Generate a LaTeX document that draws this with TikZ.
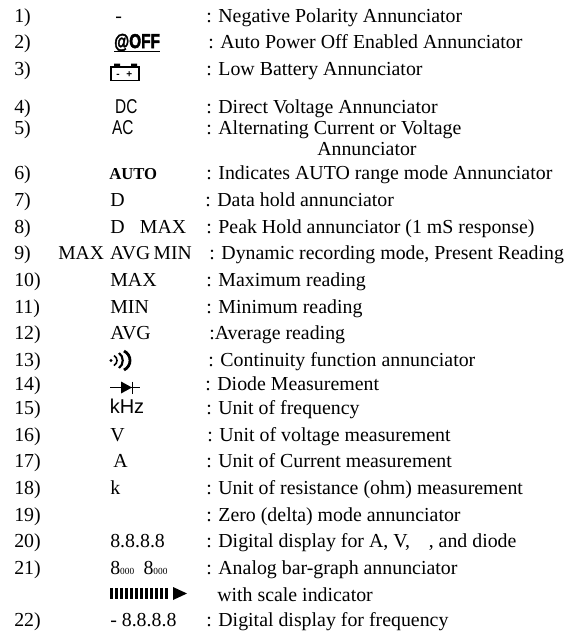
\documentclass[tikz,border=0pt]{standalone}
\usepackage{fontspec}
\setmainfont{Liberation Serif}
\newfontfamily\symfont{Liberation Sans}
\newfontfamily\offfont[FakeBold=2.5]{Liberation Sans Bold}
\begin{document}
\begin{tikzpicture}[x=0.75pt, y=-0.75pt,
    every node/.style={anchor=base west, inner sep=0pt, font=\fontsize{14.9pt}{16pt}\selectfont}
  ]
  \tikzset{
    sans/.style={font=\fontsize{15pt}{16pt}\selectfont\symfont},
    estreito/.style={sans, xscale=0.77},
    traco/.style={line width=0.9pt}
  }
  \useasboundingbox (0,0) rectangle (571,633);
  % numeros
  \foreach \n/\y in {1/22,2/48,3/75,4/113,5/134,6/179,7/206,8/233,9/259,10/286,11/313,12/339,13/366,14/390,15/414,16/441,17/467,18/494,19/521,20/547,21/574,22/626}
    \node (n\n) at (14,\y) {\n)};
  % descricoes
  \foreach \n/\x/\y/\t in {
    1/206/22/{: Negative Polarity Annunciator},
    2/208/48/{: Auto Power Off Enabled Annunciator},
    3/206/75/{: Low Battery Annunciator},
    4/206/113/{: Direct Voltage Annunciator},
    5/206/134/{: Alternating Current or Voltage},
    6/206/179/{: Indicates AUTO range mode Annunciator},
    7/205/206/{: Data hold annunciator},
    8/206/233/{: Peak Hold annunciator (1 mS response)},
    9/209/259/{: Dynamic recording mode, Present Reading},
    10/206/286/{: Maximum reading},
    11/206/313/{: Minimum reading},
    12/209/339/{:Average reading},
    13/208/366/{: Continuity function annunciator},
    14/205/390/{: Diode Measurement},
    15/206/414/{: Unit of frequency},
    16/207/441/{: Unit of voltage measurement},
    17/206/467/{: Unit of Current measurement},
    18/206/494/{: Unit of resistance (ohm) measurement},
    19/206/521/{: Zero (delta) mode annunciator},
    20/206/547/{: Digital display for A, V,\hspace{14pt}, and diode},
    21/206/574/{: Analog bar-graph annunciator},
    22/206/626/{: Digital display for frequency}}
    \node (d\n) at (\x,\y) {\t};
  \node (d5b) at (317,155) {Annunciator};
  \node (d21b) at (217,601) {with scale indicator};
  % simbolos
  \node (s1) at (115,22) {-};
  \node[font=\fontsize{15pt}{16pt}\selectfont\offfont, xscale=0.77] (s2) at (114,48) {@OFF};
  \draw[line width=1.1pt] (114,51.5) -- (160,51.5);
  % bateria
  \draw[traco] (111,67) rectangle (139,80.5);
  \fill (114,63.5) rectangle (120,67) (131,63.5) rectangle (137,67);
  \node[font=\fontsize{7.5pt}{8pt}\selectfont\symfont\bfseries] (s3) at (116,77.5) {-\hspace{5pt}+};
  \node[estreito] (s4) at (115,113) {DC};
  \node[estreito] (s5) at (112,134) {AC};
  \node[font=\fontsize{12.5pt}{14pt}\selectfont\bfseries] (s6) at (109,179) {AUTO};
  \node (s7) at (110,206) {D};
  \node (s8) at (110,233) {D\hspace{11.5pt}MAX};
  \node[font=\fontsize{14.7pt}{16pt}\selectfont] (s9) at (58,259) {MAX\hspace{1pt} AVG\hspace{-1pt} MIN};
  \node (s10) at (110,286) {MAX};
  \node (s11) at (110,313) {MIN};
  \node (s12) at (110,339) {AVG};
  % continuidade
  \fill (111,360.5) circle (1.6);
  \draw[line width=1.2pt] (114,355.5) .. controls (118,358) and (118,363) .. (114,365.5);
  \draw[line width=1.6pt] (119,353) .. controls (124,356.5) and (124,364.5) .. (119,368);
  \draw[line width=2.1pt] (124,351) .. controls (132,355) and (132,366) .. (124,370);
  % diodo
  \draw[line width=1.3pt] (110,387.5) -- (140,387.5) (132.5,381.5) -- (132.5,393.5);
  \fill (121,381.5) -- (132,387.5) -- (121,393.5) -- cycle;
  \node[sans] (s15) at (109.5,413) {kHz};
  \node (s16) at (110,441) {V};
  \node (s17) at (113,467) {A};
  \node (s18) at (110,494) {k};
  \node (s20) at (110,547) {8.8.8.8};
  \node (s21) at (110,574) {8{\fontsize{7pt}{7pt}\selectfont 000}\hspace{7pt}8{\fontsize{7pt}{7pt}\selectfont 000}};
  % barra analogica
  \foreach \i in {0,...,11}
    \fill ({110+\i*5},588) rectangle ({112.8+\i*5},599);
  \fill (173,587) -- (187,593.5) -- (173,600) -- cycle;
  \node (s22) at (110,626) {- 8.8.8.8};
\end{tikzpicture}
\end{document}
